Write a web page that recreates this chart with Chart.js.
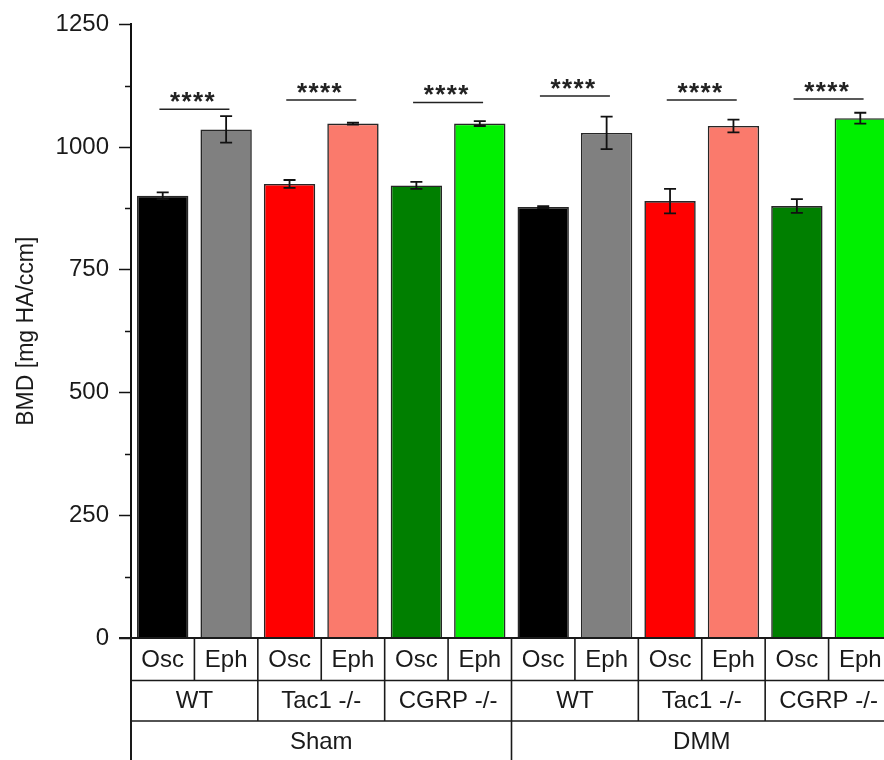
<!DOCTYPE html>
<html>
<head>
<meta charset="utf-8">
<script src="https://cdn.jsdelivr.net/npm/chart.js@4/dist/chart.umd.min.js"></script>
<style>
  html, body { margin: 0; padding: 0; background: #ffffff; overflow: hidden; }
  #wrap { position: relative; width: 900px; height: 760px; }
</style>
</head>
<body>
<div id="wrap"><canvas id="bmd" width="900" height="760"></canvas></div>
<script>
// Grouping levels of the bars (outer to inner)
const surgeries = ['Sham', 'DMM'];
const genotypes = ['WT', 'Tac1 -/-', 'CGRP -/-'];
const loadings = ['Osc', 'Eph'];

// BMD means and error (mg HA/ccm), in bar order
const bmdMean  = [901, 1036, 925, 1048, 922, 1048, 878, 1029, 890, 1043, 880, 1059];
const bmdError = [7, 27, 8, 2, 7, 5, 2, 33, 25, 13, 14, 11];

// Osc vs Eph comparison per genotype group
const significance = ['****', '****', '****', '****', '****', '****'];
const significanceLevel = [1077, 1096, 1091, 1104, 1096, 1098];

// Y axis
const yTickValues = [0, 250, 500, 750, 1000, 1250];
const yTickLabels = ['0', '250', '500', '750', '1000', '1250'];
const yMinorValues = [125, 375, 625, 875, 1125];

const FONT = '"Liberation Sans", Arial, Helvetica, sans-serif';
const INK = '#1a1a1a';
const genotypeColors = [
  ['#000000', '#808080'],
  ['#ff0000', '#fa7a6c'],
  ['#007f00', '#00f000']
];

const labels = [];
const colors = [];
surgeries.forEach(() => {
  genotypes.forEach((g, gi) => {
    loadings.forEach((l, li) => {
      labels.push(l);
      colors.push(genotypeColors[gi][li]);
    });
  });
});

function categoryGeometry(chart) {
  const meta = chart.getDatasetMeta(0);
  const c0 = meta.data[0].x;
  const step = meta.data[1].x - c0;
  const edge = i => c0 + (i - 0.5) * step;
  return { meta, c0, step, edge };
}

const errorBars = {
  id: 'errorBars',
  afterDatasetsDraw(chart) {
    const ctx = chart.ctx;
    const y = chart.scales.y;
    const { meta } = categoryGeometry(chart);
    ctx.save();
    ctx.strokeStyle = '#111';
    ctx.lineWidth = 1.8;
    bmdMean.forEach((m, i) => {
      const x = meta.data[i].x;
      const yt = y.getPixelForValue(m + bmdError[i]);
      const yb = y.getPixelForValue(m - bmdError[i]);
      ctx.beginPath();
      ctx.moveTo(x, yt); ctx.lineTo(x, yb);
      ctx.moveTo(x - 6, yt); ctx.lineTo(x + 6, yt);
      ctx.moveTo(x - 6, yb); ctx.lineTo(x + 6, yb);
      ctx.stroke();
    });
    ctx.restore();
  }
};

const significanceMarks = {
  id: 'significanceMarks',
  afterDatasetsDraw(chart) {
    const ctx = chart.ctx;
    const y = chart.scales.y;
    const { meta } = categoryGeometry(chart);
    ctx.save();
    ctx.strokeStyle = '#222';
    ctx.fillStyle = '#222';
    ctx.lineWidth = 1.5;
    ctx.font = 'bold 26px ' + FONT;
    ctx.textAlign = 'center';
    ctx.textBaseline = 'alphabetic';
    significance.forEach((s, k) => {
      const xa = meta.data[2 * k].x;
      const xb = meta.data[2 * k + 1].x;
      const mid = (xa + xb) / 2;
      const ly = y.getPixelForValue(significanceLevel[k]);
      ctx.beginPath();
      ctx.moveTo(mid - 35, ly); ctx.lineTo(mid + 35, ly);
      ctx.stroke();
      const n = s.length;
      for (let j = 0; j < n; j++) {
        ctx.fillText(s[j], mid - 2 + (j - (n - 1) / 2) * 11.5, ly + 1);
      }
    });
    ctx.restore();
  }
};

const axisDecor = {
  id: 'axisDecor',
  afterDraw(chart) {
    const ctx = chart.ctx;
    const y = chart.scales.y;
    const area = chart.chartArea;
    ctx.save();
    ctx.strokeStyle = '#111';
    ctx.lineWidth = 1.5;
    yMinorValues.forEach(v => {
      const py = Math.round(y.getPixelForValue(v)) + 0.5;
      ctx.beginPath();
      ctx.moveTo(area.left - 6, py); ctx.lineTo(area.left, py);
      ctx.stroke();
    });
    ctx.restore();
  }
};

const categoryTable = {
  id: 'categoryTable',
  afterDraw(chart) {
    const ctx = chart.ctx;
    const area = chart.chartArea;
    const { edge } = categoryGeometry(chart);
    const n = labels.length;
    const y0 = area.bottom;
    const y1 = y0 + 42.5;
    const y2 = y1 + 40.5;
    const y3 = chart.height;
    const left = area.left;
    const right = edge(n);
    ctx.save();
    ctx.strokeStyle = '#1a1a1a';
    // horizontal rules
    ctx.lineWidth = 2;
    ctx.beginPath(); ctx.moveTo(left - 12, y0); ctx.lineTo(right, y0); ctx.stroke();
    ctx.lineWidth = 1.6;
    [y1, y2].forEach(yy => {
      ctx.beginPath(); ctx.moveTo(left, yy); ctx.lineTo(right, yy); ctx.stroke();
    });
    // axis continues down the table
    ctx.lineWidth = 2;
    ctx.beginPath(); ctx.moveTo(left, y0); ctx.lineTo(left, y3); ctx.stroke();
    ctx.lineWidth = 1.6;
    for (let i = 1; i <= n; i++) {
      ctx.beginPath(); ctx.moveTo(edge(i), y0); ctx.lineTo(edge(i), y1); ctx.stroke();
    }
    for (let i = 2; i <= n; i += 2) {
      ctx.beginPath(); ctx.moveTo(edge(i), y1); ctx.lineTo(edge(i), y2); ctx.stroke();
    }
    const per = n / surgeries.length;
    for (let i = per; i < n; i += per) {
      ctx.beginPath(); ctx.moveTo(edge(i), y2); ctx.lineTo(edge(i), y3); ctx.stroke();
    }
    // texts
    ctx.fillStyle = INK;
    ctx.textAlign = 'center';
    ctx.textBaseline = 'middle';
    ctx.font = '24px ' + FONT;
    labels.forEach((l, i) => {
      ctx.fillText(l, (edge(i) + edge(i + 1)) / 2, (y0 + y1) / 2 + 1);
    });
    let k = 0;
    surgeries.forEach(() => {
      genotypes.forEach(g => {
        ctx.fillText(g, (edge(2 * k) + edge(2 * k + 2)) / 2, (y1 + y2) / 2 + 1);
        k++;
      });
    });
    surgeries.forEach((s, si) => {
      ctx.fillText(s, (edge(si * per) + edge((si + 1) * per)) / 2, (y2 + y3) / 2 + 2);
    });
    ctx.restore();
  }
};

new Chart(document.getElementById('bmd'), {
  type: 'bar',
  data: {
    labels: labels,
    datasets: [{
      data: bmdMean,
      backgroundColor: colors,
      borderColor: '#262626',
      borderWidth: 1.6,
      barPercentage: 0.81,
      categoryPercentage: 1
    }]
  },
  options: {
    responsive: false,
    animation: false,
    devicePixelRatio: 1,
    layout: { padding: { top: 23, bottom: 122, left: 0, right: 8 } },
    plugins: { legend: { display: false }, tooltip: { enabled: false } },
    scales: {
      x: { display: false, offset: true },
      y: {
        min: 0,
        max: 1250,
        afterBuildTicks(scale) { scale.ticks = yTickValues.map(v => ({ value: v })); },
        afterFit(scale) { scale.width = 131; },
        ticks: {
          color: INK,
          font: { family: FONT, size: 24 },
          padding: 10,
          callback: (v) => yTickLabels[yTickValues.indexOf(v)]
        },
        grid: { drawOnChartArea: false, drawTicks: true, tickLength: 12, tickColor: '#111', tickWidth: 1.5 },
        border: { display: true, color: '#111', width: 2 },
        title: {
          display: true,
          text: 'BMD [mg HA/ccm]',
          color: INK,
          font: { family: FONT, size: 23 },
          padding: { top: 13, bottom: 0 }
        }
      }
    }
  },
  plugins: [errorBars, significanceMarks, axisDecor, categoryTable]
});
</script>
</body>
</html>
